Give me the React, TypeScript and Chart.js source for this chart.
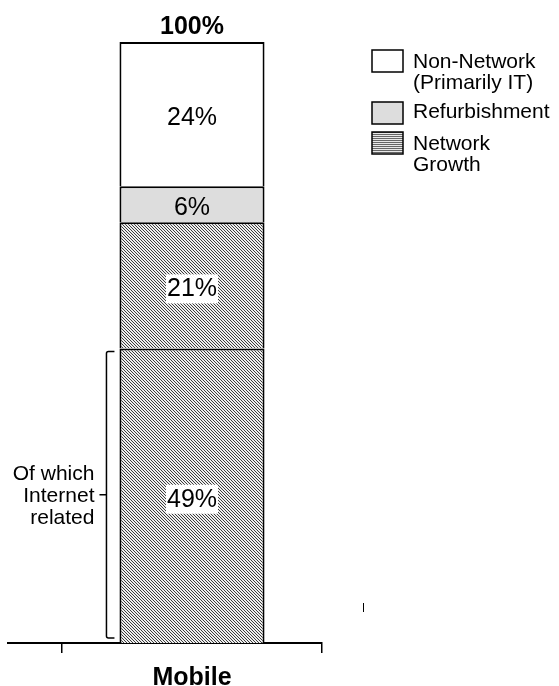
import React, { useEffect, useRef } from 'react';
import { Chart, registerables } from 'chart.js';

Chart.register(...registerables);

// Capex split for the mobile business (percent of total)
const categories = ['Mobile'];
const internetGrowth = [49];
const otherGrowth = [21];
const refurbishment = [6];
const nonNetwork = [24];
const totalLabels = ['100%'];

const legendItems = [
  ['Non-Network', '(Primarily IT)'],
  ['Refurbishment'],
  ['Network', 'Growth'],
];
const bracketLines = ['Of which', 'Internet', 'related'];

const FONT = 'Arial, "Liberation Sans", sans-serif';

function diagonalHatch(ctx: CanvasRenderingContext2D) {
  const c = document.createElement('canvas');
  c.width = 3;
  c.height = 3;
  const g = c.getContext('2d')!;
  g.fillStyle = '#eeeeee';
  g.fillRect(0, 0, 3, 3);
  g.fillStyle = '#3c3c3c';
  for (let y = 0; y < 3; y++) {
    for (let x = 0; x < 3; x++) {
      if ((x - y + 6) % 3 === 0) g.fillRect(x, y, 1, 1);
    }
  }
  return ctx.createPattern(c, 'repeat')!;
}

function stripeHatch(ctx: CanvasRenderingContext2D) {
  const c = document.createElement('canvas');
  c.width = 2;
  c.height = 2;
  const g = c.getContext('2d')!;
  g.fillStyle = '#e8e8e8';
  g.fillRect(0, 0, 2, 2);
  g.fillStyle = '#666666';
  g.fillRect(0, 0, 2, 1);
  return ctx.createPattern(c, 'repeat')!;
}

export default function App() {
  const canvasRef = useRef<HTMLCanvasElement | null>(null);

  useEffect(() => {
    const canvas = canvasRef.current;
    if (!canvas) return;
    const ctx = canvas.getContext('2d')!;
    const hatch = diagonalHatch(ctx);
    const legendHatch = stripeHatch(ctx);

    const annotations = {
      id: 'annotations',
      afterDatasetsDraw(chart: any) {
        const c = chart.ctx as CanvasRenderingContext2D;
        const area = chart.chartArea;
        const yScale = chart.scales.y;
        c.save();

        // segment value labels
        chart.data.datasets.forEach((ds: any, di: number) => {
          const meta = chart.getDatasetMeta(di);
          meta.data.forEach((bar: any, i: number) => {
            const v = ds.data[i];
            const text = `${v}%`;
            const yMid = (bar.y + bar.base) / 2 + 3;
            c.font = `25px ${FONT}`;
            c.textAlign = 'center';
            c.textBaseline = 'middle';
            if (ds.labelBox) {
              const w = c.measureText(text).width + 2;
              c.fillStyle = '#ffffff';
              c.fillRect(bar.x - w / 2, yMid - 14, w, 29);
            }
            c.fillStyle = '#000000';
            c.fillText(text, bar.x, yMid + 1);
          });
        });

        // total above the stack
        const topMeta = chart.getDatasetMeta(chart.data.datasets.length - 1);
        topMeta.data.forEach((bar: any, i: number) => {
          c.font = `bold 25px ${FONT}`;
          c.textAlign = 'center';
          c.textBaseline = 'alphabetic';
          c.fillStyle = '#000000';
          c.fillText(totalLabels[i], bar.x, bar.y - 8);
        });

        // bracket for the internet related share
        const first = chart.getDatasetMeta(0).data[0] as any;
        const barLeft = first.x - first.width / 2;
        const bx = barLeft - 13;
        const bTop = yScale.getPixelForValue(internetGrowth[0]) + 3;
        const bBottom = yScale.getPixelForValue(0) - 5;
        const bMid = (bTop + bBottom) / 2;
        c.strokeStyle = '#000000';
        c.lineWidth = 1.5;
        c.beginPath();
        c.moveTo(bx + 8, bTop);
        c.lineTo(bx + 2, bTop);
        c.quadraticCurveTo(bx, bTop, bx, bTop + 2);
        c.lineTo(bx, bBottom - 2);
        c.quadraticCurveTo(bx, bBottom, bx + 2, bBottom);
        c.lineTo(bx + 8, bBottom);
        c.moveTo(bx, bMid);
        c.lineTo(bx - 7, bMid);
        c.stroke();

        c.font = `21px ${FONT}`;
        c.textAlign = 'right';
        c.textBaseline = 'alphabetic';
        c.fillStyle = '#000000';
        bracketLines.forEach((line, i) => {
          c.fillText(line, bx - 12, bMid - 15 + i * 22);
        });

        // axis line continues to the left of the plot
        c.lineWidth = 2;
        c.beginPath();
        c.moveTo(7, area.bottom);
        c.lineTo(area.left, area.bottom);
        c.stroke();
        c.lineWidth = 1;
        c.beginPath();
        c.moveTo(363.5, 603);
        c.lineTo(363.5, 612);
        c.stroke();

        // legend
        const fills = ['#ffffff', '#dddddd', legendHatch];
        const boxTops = [50, 102, 132];
        const textBase = [68, 118, 150];
        legendItems.forEach((lines, i) => {
          c.fillStyle = fills[i] as any;
          c.fillRect(372, boxTops[i], 31, 22);
          c.strokeStyle = '#000000';
          c.lineWidth = 1.5;
          c.strokeRect(372, boxTops[i], 31, 22);
          c.fillStyle = '#000000';
          c.font = `21px ${FONT}`;
          c.textAlign = 'left';
          c.textBaseline = 'alphabetic';
          lines.forEach((line, j) => {
            c.fillText(line, 413, textBase[i] + j * 21);
          });
        });

        c.restore();
      },
    };

    const chart = new Chart(canvas, {
      type: 'bar',
      data: {
        labels: categories,
        datasets: [
          { label: 'Network Growth (Internet related)', data: internetGrowth, backgroundColor: hatch, labelBox: true } as any,
          { label: 'Network Growth', data: otherGrowth, backgroundColor: hatch, labelBox: true } as any,
          { label: 'Refurbishment', data: refurbishment, backgroundColor: '#dddddd' } as any,
          { label: 'Non-Network (Primarily IT)', data: nonNetwork, backgroundColor: '#ffffff' } as any,
        ].map((d: any) => ({
          ...d,
          borderColor: '#000000',
          borderWidth: 2,
          borderSkipped: 'start',
          barPercentage: 0.558,
          categoryPercentage: 1,
        })),
      },
      options: {
        responsive: true,
        maintainAspectRatio: false,
        animation: false,
        layout: { padding: { left: 62, right: 237, top: 42, bottom: 0 } },
        plugins: {
          legend: { display: false },
          tooltip: { enabled: false },
        },
        scales: {
          x: {
            stacked: true,
            offset: true,
            grid: {
              offset: true,
              drawOnChartArea: false,
              drawTicks: true,
              tickLength: 10,
              color: '#000000',
              lineWidth: 1.5,
            },
            border: { display: true, color: '#000000', width: 2 },
            ticks: {
              color: '#000000',
              padding: 10,
              font: { family: FONT, size: 25, weight: 'bold' },
            },
            afterFit: (scale: any) => {
              scale.height = 43;
            },
          },
          y: {
            stacked: true,
            display: false,
            min: 0,
            max: 100,
          },
        },
      },
      plugins: [annotations],
    });

    return () => chart.destroy();
  }, []);

  return (
    <div style={{ position: 'absolute', left: 0, top: 0, width: 559, height: 686, background: '#ffffff' }}>
      <canvas ref={canvasRef} />
    </div>
  );
}
